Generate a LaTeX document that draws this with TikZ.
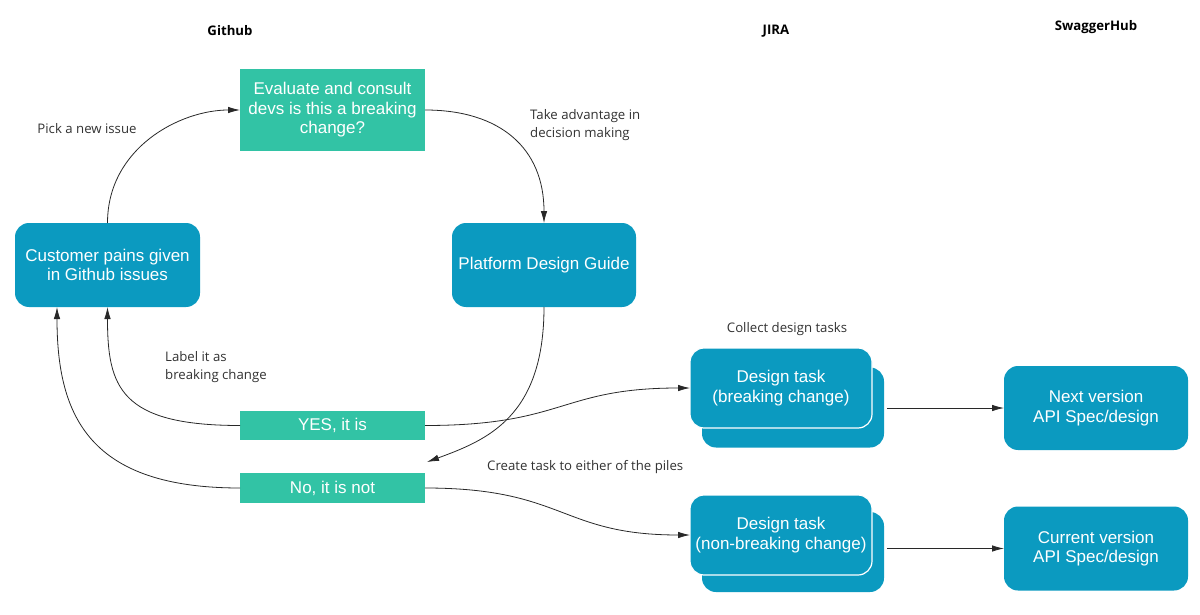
\documentclass[tikz,border=0pt]{standalone}
\usepackage{fontspec}
\setmainfont{Liberation Sans}
\newfontfamily\lblfont{Open Sans}
\usetikzlibrary{arrows.meta}
\definecolor{tealg}{RGB}{50,195,165}
\definecolor{bluebx}{RGB}{11,154,192}
\definecolor{lineclr}{RGB}{40,40,40}
\definecolor{txtclr}{RGB}{50,50,50}
\tikzset{
  boxtxt/.style={text=white, font=\fontsize{17}{19.5}\selectfont, align=center, inner sep=0pt, outer sep=0pt},
  greenbox/.style={boxtxt, fill=tealg, minimum width=185pt},
  bluebox/.style={boxtxt, fill=bluebx, rounded corners=14pt, minimum width=184pt, minimum height=84pt},
  frontbox/.style={bluebox, draw=white, line width=1.2pt, minimum width=182pt, minimum height=80pt},
  backbox/.style={bluebox, minimum width=182pt, minimum height=80pt},
  lbl/.style={font=\lblfont\fontsize{13.2}{18.5}\selectfont, text=txtclr, inner sep=0pt, align=left},
  hdr/.style={font=\lblfont\bfseries\fontsize{13.2}{15}\selectfont, text=black, inner sep=0pt},
  arr/.style={draw=lineclr, line width=0.8pt, -{Latex[length=12pt,width=6.5pt]}},
}
\begin{document}
\begin{tikzpicture}[x=1pt,y=-1pt]
\useasboundingbox (0,0) rectangle (1200,615);
% headers
\node[hdr] (hgit) at (230,31) {Github};
\node[hdr] (hjira) at (776,31) {JIRA};
\node[hdr] (hswag) at (1096,27) {SwaggerHub};
% main nodes
\node[greenbox, minimum height=82pt] (eval) at (332.5,110) {Evaluate and consult\\devs is this a breaking\\change?};
\node[bluebox, minimum width=185pt] (cust) at (107.5,265) {Customer pains given\\in Github issues};
\node[bluebox] (pdg) at (544,265) {Platform Design Guide};
\node[greenbox, minimum height=29pt] (yes) at (332.5,425.5) {YES, it is};
\node[greenbox, minimum height=30pt] (no) at (332.5,488) {No, it is not};
% stacked design tasks
\node[backbox] (dtbb) at (793,407.5) {};
\node[frontbox] (dtbf) at (781,388) {Design task\\(breaking change)};
\node[backbox] (dtnb) at (793,552) {};
\node[frontbox] (dtnf) at (781,535) {Design task\\(non-breaking change)};
% swagger
\node[bluebox] (next) at (1096,408) {Next version\\API Spec/design};
\node[bluebox] (cur) at (1096,548.5) {Current version\\API Spec/design};
% labels
\node[lbl] (lpick) at (87,129) {Pick a new issue};
\node[lbl, anchor=west] (ltake) at (530,125) {Take advantage in\\decision making};
\node[lbl, anchor=west] (llabel) at (165,367) {Label it as\\breaking change};
\node[lbl] (lcollect) at (787,329) {Collect design tasks};
\node[lbl, anchor=west] (lcreate) at (487,467) {Create task to either of the piles};
% connectors
\coordinate (tgt) at (427,462);
\coordinate (custb2) at (57,307);
\draw[arr] (cust.north) .. controls +(0,-75) and +(-60,0) .. (eval.west);
\draw[arr] (eval.east) .. controls +(75,0) and +(0,-75) .. (pdg.north);
\draw[arr] (pdg.south) .. controls +(0,110) and +(60,-22) .. (tgt);
\draw[arr] (yes.west) .. controls +(-120,0) and +(0,80) .. (cust.south);
\draw[arr] (no.west) .. controls +(-150,0) and +(0,110) .. (custb2);
\draw[arr] (yes.east) .. controls +(140,0) and +(-130,0) .. (dtbf.west);
\draw[arr] (no.east) .. controls +(140,0) and +(-130,0) .. (dtnf.west);
\draw[arr, shorten <=3pt] (dtbb.east |- next.west) -- (next.west);
\draw[arr, shorten <=3pt] (dtnb.east |- cur.west) -- (cur.west);
\end{tikzpicture}
\end{document}
